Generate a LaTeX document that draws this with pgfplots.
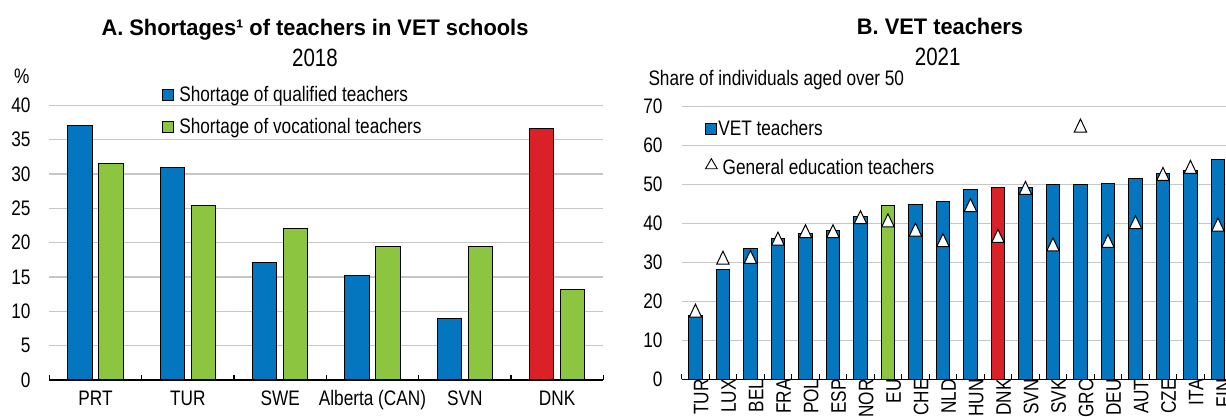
\documentclass[border=0pt]{standalone}
\usepackage{fontspec}
\setmainfont{Liberation Sans}[FakeStretch=0.82]
\newfontfamily\titlefont{Liberation Sans}[FakeStretch=0.97]
\usepackage{pgfplots}
\pgfplotsset{compat=1.18}
\definecolor{oblue}{HTML}{0376BF}
\definecolor{ogreen}{HTML}{8CC641}
\definecolor{ored}{HTML}{DA2128}
\definecolor{ogrid}{HTML}{C6C6C6}
\pgfdeclareplotmark{tri}{%
  \pgfpathmoveto{\pgfqpoint{0pt}{6.5pt}}%
  \pgfpathlineto{\pgfqpoint{6.2pt}{-6.5pt}}%
  \pgfpathlineto{\pgfqpoint{-6.2pt}{-6.5pt}}%
  \pgfpathclose
  \pgfusepathqfillstroke}
\pgfplotsset{
  common/.style={
    scale only axis, anchor=south west,
    axis x line*=bottom, axis y line*=left,
    y axis line style={draw=none},
    x axis line style={black, line width=1.2pt, -},
    major tick length=0pt, minor tick length=5pt, tick align=inside,
    minor tick style={black, line width=1.2pt},
    ymajorgrids, grid style={ogrid, line width=1.3pt},
    tick label style={font=\fontsize{21}{24}\selectfont},
    /pgf/number format/assume math mode=true,
    yticklabel style={inner sep=0pt, anchor=east},
    clip=false,
    legend cell align=left,
    legend style={draw=none, fill=none, inner sep=0pt, outer sep=0pt,
      anchor=north west,
      font=\fontsize{21}{24}\selectfont,
      nodes={inner sep=0pt, text height=15pt, text depth=5pt},
      cells={anchor=base west}},
  }
}
\begin{document}
\begin{tikzpicture}[x=1pt,y=1pt]
\useasboundingbox (0,0) rectangle (1226,417);
% ---------------- Panel A
\begin{axis}[common,
  at={(49.3pt,37pt)}, width=554pt, height=274.6pt,
  xmin=-0.5, xmax=5.5, ymin=0, ymax=40, ytick={0,5,...,40},
  xtick={0,...,5},
  xticklabels={PRT,TUR,SWE,Alberta (CAN),SVN,DNK},
  minor xtick={-0.5,0.5,...,5.5},
  yticklabel style={xshift=-18.6pt},
  xticklabel style={anchor=north, inner sep=0pt, text height=15pt, text depth=4pt, yshift=-10pt},
  legend style={at={(0.204,1.068)}, row sep=11.7pt},
]
\addplot[ybar, bar width=0.263, bar shift=-0.168, fill=oblue, draw=black, line width=1pt,
  legend image code/.code={\draw[fill=oblue,draw=black,line width=1pt] (0pt,1pt) rectangle (11pt,12pt); \path (16pt,0pt);}]
  coordinates {(0,37.1) (1,30.9) (2,17.1) (3,15.2) (4,9.0)};
\addlegendentry{Shortage of qualified teachers}
\addplot[ybar, bar width=0.263, bar shift=0.168, fill=ogreen, draw=black, line width=1pt,
  legend image code/.code={\draw[fill=ogreen,draw=black,line width=1pt] (0pt,1pt) rectangle (11pt,12pt); \path (16pt,0pt);}]
  coordinates {(0,31.6) (1,25.4) (2,22.0) (3,19.5) (4,19.4) (5,13.2)};
\addlegendentry{Shortage of vocational teachers}
\addplot[ybar, bar width=0.263, bar shift=-0.168, fill=ored, draw=black, line width=1pt, forget plot]
  coordinates {(5,36.6)};
\end{axis}
% ---------------- Panel B
\begin{axis}[common,
  at={(681.7pt,37.7pt)}, width=550pt, height=272.8pt,
  xmin=-0.5, xmax=19.5, ymin=0, ymax=70, ytick={0,10,...,70},
  xtick={0,...,19},
  xticklabels={TUR,LUX,BEL,FRA,POL,ESP,NOR,EU,CHE,NLD,HUN,DNK,SVN,SVK,GRC,DEU,AUT,CZE,ITA,FIN},
  minor xtick={-0.5,0.5,...,19.5},
  yticklabel style={xshift=-19pt},
  xticklabel style={rotate=90, anchor=east, inner sep=0pt, font=\fontsize{21}{24}\selectfont, yshift=-5.7pt},
  legend style={at={(0.0424,0.947)}, row sep=17.3pt},
]
\addplot[ybar, bar width=0.5, bar shift=0, fill=oblue, draw=black, line width=1pt,
  legend image code/.code={\draw[fill=oblue,draw=black,line width=1pt] (0pt,1pt) rectangle (11pt,12pt); \path (12.3pt,0pt);}]
  coordinates {(0,16.3) (1,28.1) (2,33.5) (3,36.1) (4,37.4) (5,38.2) (6,41.8)
    (8,44.9) (9,45.6) (10,48.8) (12,49.1) (13,50.0) (14,50.1) (15,50.3)
    (16,51.5) (17,52.8) (18,53.6) (19,56.5)};
\addlegendentry{VET teachers}
\addplot[ybar, bar width=0.5, bar shift=0, fill=ogreen, draw=black, line width=1pt, forget plot]
  coordinates {(7,44.7)};
\addplot[ybar, bar width=0.5, bar shift=0, fill=ored, draw=black, line width=1pt, forget plot]
  coordinates {(11,49.1)};
\addplot[only marks, mark=tri, mark options={fill=white, draw=black, line width=1pt},
  legend image code/.code={\draw[draw=black,line width=0.9pt] (0pt,5.3pt) -- (11.7pt,5.3pt) -- (5.85pt,15.3pt) -- cycle;}]
  coordinates {(0,17.6) (1,31.2) (2,31.4) (3,36.1) (4,38.0) (5,38.0) (6,41.6)
    (7,40.8) (8,38.4) (9,35.7) (10,44.7) (11,36.8) (12,49.1) (13,34.6)
    (14,65.1) (15,35.5) (16,40.3) (17,52.7) (18,54.5) (19,39.7)};
\addlegendentry{\hspace*{4.4pt}General education teachers}
\end{axis}
% ---------------- titles and unit labels
\node[anchor=base, font=\titlefont\bfseries\fontsize{22.5}{26}\selectfont] at (315,381.5) {A. Shortages¹ of teachers in VET schools};
\node[anchor=base, font=\fontsize{25}{28}\selectfont] at (315,350.5) {2018};
\node[anchor=base west, inner sep=0pt, font=\fontsize{21}{24}\selectfont] at (14,333) {\%};
\node[anchor=base, font=\titlefont\bfseries\fontsize{22.5}{26}\selectfont] at (940,382.7) {B. VET teachers};
\node[anchor=base, font=\fontsize{25}{28}\selectfont] at (937.7,351) {2021};
\node[anchor=base west, inner sep=0pt, font=\fontsize{21}{24}\selectfont] at (648.3,331) {Share of individuals aged over 50};
\end{tikzpicture}
\end{document}
